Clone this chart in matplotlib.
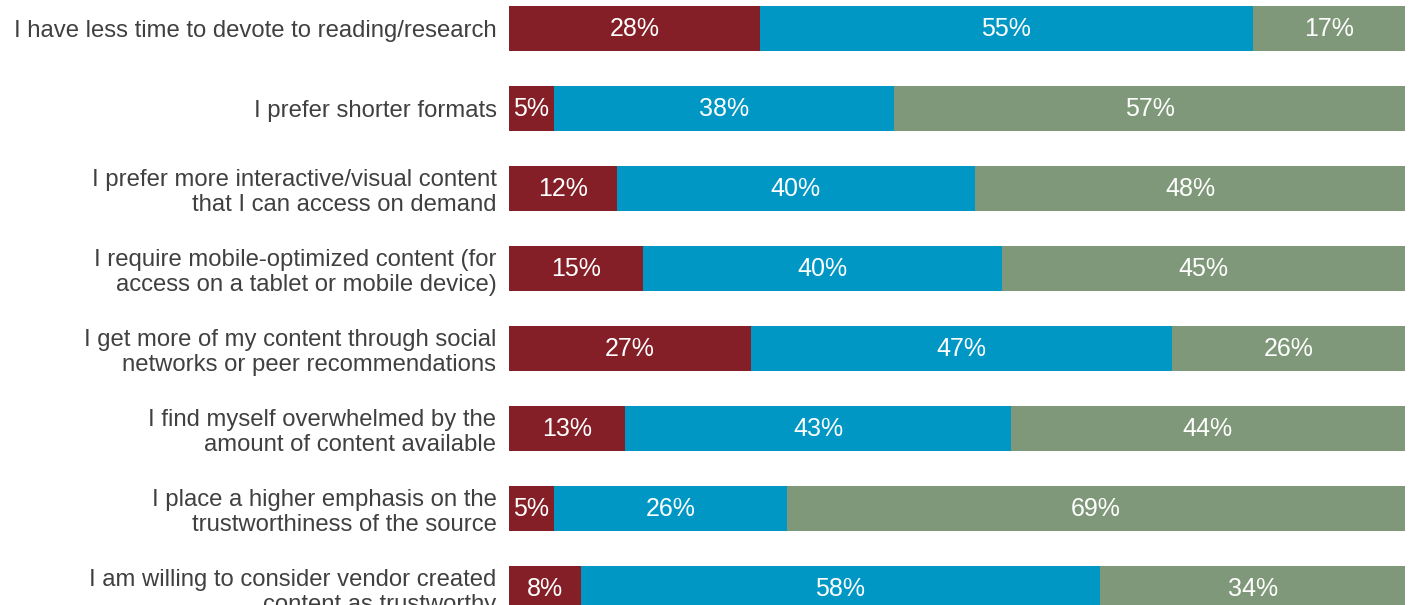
import matplotlib
matplotlib.use("Agg")
import matplotlib.pyplot as plt
import numpy as np

plt.rcParams["font.family"] = ["Liberation Sans", "DejaVu Sans"]

statements = [
    "I have less time to devote to reading/research",
    "I prefer shorter formats",
    "I prefer more interactive/visual content\nthat I can access on demand",
    "I require mobile-optimized content (for\naccess on a tablet or mobile device)",
    "I get more of my content through social\nnetworks or peer recommendations",
    "I find myself overwhelmed by the\namount of content available",
    "I place a higher emphasis on the\ntrustworthiness of the source",
    "I am willing to consider vendor created\ncontent as trustworthy",
]
disagree = [28, 5, 12, 15, 27, 13, 5, 8]
agree = [55, 38, 40, 40, 47, 43, 26, 58]
neutral = [17, 57, 48, 45, 26, 44, 69, 34]

colors = ["#841f27", "#0097c5", "#7f9879"]

W, H = 1413, 605
fig = plt.figure(figsize=(W / 100, H / 100), dpi=100)
ax = fig.add_axes([509 / W, 0, (1405 - 509) / W, 1])

# rows spaced 80 px apart, bars 45 px tall, in pixel units on the y axis
ypos = 28.5 + 80 * np.arange(len(statements))
left = np.zeros(len(statements))
for vals, c in zip([disagree, agree, neutral], colors):
    vals = np.array(vals)
    ax.barh(ypos, vals, left=left, height=45, color=c, linewidth=0)
    for y, l, v in zip(ypos, left, vals):
        ax.text(l + v / 2, y + 0.5, f"{v}%", ha="center", va="center",
                color="white", fontsize=18)
    left += vals

ax.set_xlim(0, 100)
ax.set_ylim(H, 0)
ax.set_yticks(ypos, statements, fontsize=17.2, color="#404040",
              linespacing=1.2)
ax.tick_params(axis="y", length=0, pad=9)
ax.set_xticks([])
for s in ax.spines.values():
    s.set_visible(False)

fig.savefig("out.png", dpi=100)
